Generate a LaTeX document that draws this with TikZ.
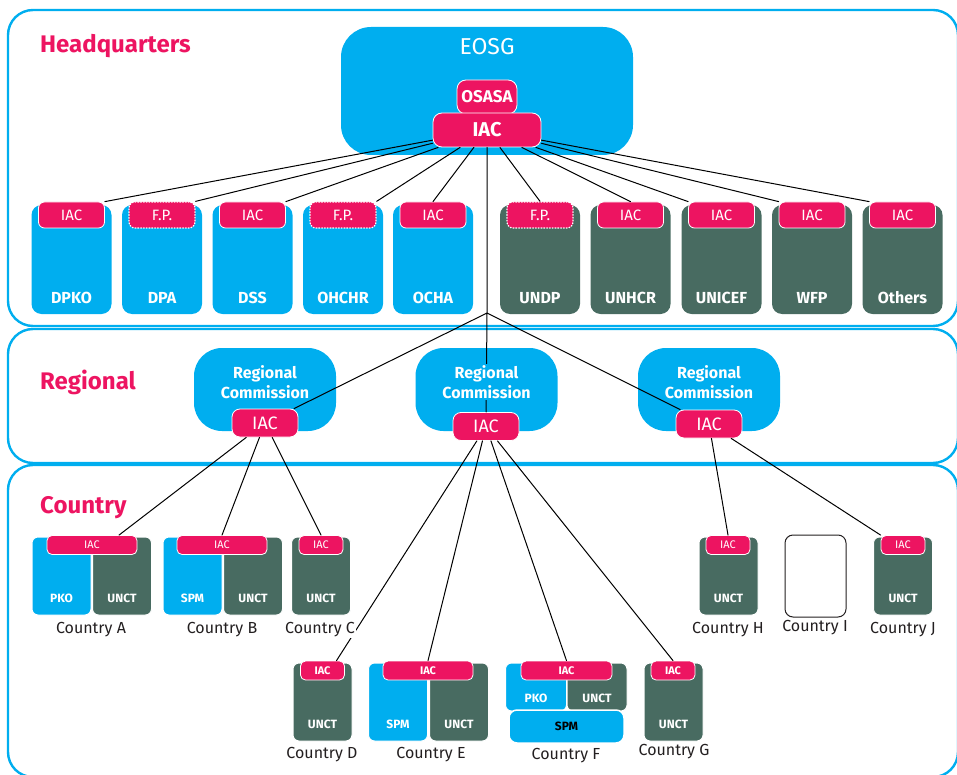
\documentclass[tikz,border=0pt]{standalone}
\usepackage{fontspec}
\setmainfont{Fira Sans}
\definecolor{unblue}{RGB}{0,174,239}
\definecolor{unpink}{RGB}{237,20,97}
\definecolor{ungreen}{RGB}{72,107,97}
\definecolor{ungray}{RGB}{35,31,32}
\begin{document}
\begin{tikzpicture}[x=1pt, y=-1pt, line join=round, line cap=round,
	frame/.style={draw=unblue, line width=2.4pt, rounded corners=25pt},
	title/.style={text=unpink, font=\fontsize{24}{28}\selectfont\bfseries, anchor=base west, inner sep=0pt},
	agency/.style={rounded corners=10pt, minimum width=80pt, minimum height=109pt, inner sep=0pt, text=white, font=\fontsize{16}{18}\selectfont\bfseries, text height=87pt, text depth=0pt},
	tab/.style={fill=unpink, draw=white, line width=0.8pt, rounded corners=6pt, minimum width=66pt, minimum height=26pt, inner sep=0pt, text=white, font=\fontsize{15}{17}\selectfont},
	fptab/.style={tab, dotted, line width=1.3pt},
	region/.style={fill=unblue, rounded corners=28pt, minimum width=142pt, minimum height=83pt},
	rctext/.style={fill=unblue, text=white, align=center, inner sep=1pt, font=\fontsize{16}{20}\selectfont\bfseries},
	rciac/.style={tab, minimum height=28pt, rounded corners=8pt, font=\fontsize{18}{20}\selectfont},
	part/.style={draw=white, line width=1pt, rounded corners=6pt, minimum width=59pt, minimum height=78pt, inner sep=0pt, text=white, font=\fontsize{12}{14}\selectfont\bfseries, text height=53pt, text depth=0pt},
	ctab/.style={tab, minimum width=44pt, minimum height=19pt, rounded corners=5pt, font=\fontsize{11}{13}\selectfont},
	ctabb/.style={ctab, font=\fontsize{11}{13}\selectfont\bfseries},
	cname/.style={fill=white, text=ungray, inner sep=1pt, font=\fontsize{16}{18}\selectfont},
	link/.style={draw=black, line width=1pt}]
	%			\draw[gray,xstep = 50, ystep = 50] (0,0) grid (957,775);
	\useasboundingbox (0,0) rectangle (957,775);
	\draw[frame] (8,10) rectangle (958,326);
	\draw[frame] (8,329) rectangle (958,463);
	\draw[frame] (8,465) rectangle (958,777);
	\node[title] (hq) at (40,53) {Headquarters};
	\node[title] (reg) at (40,389) {Regional};
	\node[title] (cty) at (40,513) {Country};
	
	\node[fill=unblue, rounded corners=30pt, minimum width=292pt, minimum height=128pt] (eosg) at (487,91) {};
	\node[text=white, font=\fontsize{23}{26}\selectfont] (eosg-txt) at (487,46.5) {EOSG};
	\node[tab, minimum width=60pt, minimum height=34pt, rounded corners=9pt, font=\fontsize{17}{19}\selectfont\bfseries] (osasa) at (487,97) {OSASA};
	\node[tab, minimum width=108pt, minimum height=34pt, rounded corners=9pt, font=\fontsize{20}{22}\selectfont\bfseries] (iac) at (487,130) {IAC};
	
	\foreach \n/\x/\c in {DPKO/71.5/unblue, DPA/162/unblue, DSS/252.5/unblue, OHCHR/343/unblue, OCHA/433/unblue, UNDP/540/ungreen, UNHCR/630.5/ungreen, UNICEF/721.5/ungreen, WFP/812/ungreen, Others/902.5/ungreen}
	\node[agency, fill=\c] (box-\n) at (\x,259.5) {\n};
	\foreach \n/\x in {DPKO/71.5, DSS/252.5, OCHA/433, UNHCR/630.5, UNICEF/721.5, WFP/812, Others/902.5}
	\node[tab] (tab-\n) at (\x,215) {IAC};
	\foreach \n/\x in {DPA/162, OHCHR/343, UNDP/540}
	\node[fptab] (tab-\n) at (\x,215) {F.P.};
	
	\node[region] (rcA) at (265,389.5) {};
	\node[region] (rcB) at (486.5,389.5) {};
	\node[region] (rcC) at (709,389.5) {};
	\node[rciac] (rcA-iac) at (265,423) {IAC};
	\node[rciac] (rcB-iac) at (486,426.5) {IAC};
	\node[rciac] (rcC-iac) at (709,424) {IAC};
	
	\node[part, fill=unblue] (pkoA) at (61.5,576) {PKO};
	\node[part, fill=ungreen] (unctA) at (122,576) {UNCT};
	\node[ctab, minimum width=90pt] (iacA) at (92,545) {IAC};
	\node[part, fill=unblue] (spmB) at (192.5,576) {SPM};
	\node[part, fill=ungreen] (unctB) at (253,576) {UNCT};
	\node[ctab, minimum width=90pt] (iacB) at (222,545) {IAC};
	\node[part, fill=ungreen] (unctC) at (321,576) {UNCT};
	\node[ctab] (iacC) at (321,545) {IAC};
	\node[part, fill=ungreen] (unctH) at (728.5,576) {UNCT};
	\node[ctab] (iacH) at (728,545) {IAC};
	\node[draw=ungray, fill=white, line width=1pt, rounded corners=8pt, minimum width=61pt, minimum height=82pt] (boxI) at (815.5,576) {};
	\node[part, fill=ungreen] (unctJ) at (903,576) {UNCT};
	\node[ctab] (iacJ) at (903,545) {IAC};
	
	\node[part, fill=ungreen] (unctD) at (322.5,702) {UNCT};
	\node[ctabb] (iacD) at (322.5,670.5) {IAC};
	\node[part, fill=unblue] (spmE) at (398,702) {SPM};
	\node[part, fill=ungreen] (unctE) at (459,702) {UNCT};
	\node[ctabb, minimum width=90pt] (iacE) at (428,670.5) {IAC};
	\node[part, fill=unblue, minimum width=61pt, minimum height=48pt, text height=31pt] (pkoF) at (536,687) {PKO};
	\node[part, fill=ungreen, minimum width=60pt, minimum height=48pt, text height=31pt] (unctF) at (597,687) {UNCT};
	\node[part, fill=unblue, line width=1.5pt, minimum width=115pt, minimum height=33pt, rounded corners=8pt, text=black, text height=, text depth=] (spmF) at (566.5,726.5) {SPM};
	\node[ctabb, minimum width=91pt] (iacF) at (566.5,670.5) {IAC};
	\node[part, fill=ungreen] (unctG) at (673.5,702) {UNCT};
	\node[ctabb] (iacG) at (673,670.5) {IAC};
	
	\foreach \n/\a in {DPKO/north east, DPA/north east, DSS/north east, OHCHR/north east, OCHA/north, UNDP/north, UNHCR/north, UNICEF/north west, WFP/north west, Others/north west}
	\draw[link] (iac) -- (tab-\n.\a);
	\coordinate (hub) at (487,313);
	\draw[link] (iac) -- (hub)
	(hub) -- (rcA-iac)
	(hub) -- (rcB-iac)
	(hub) -- (rcC-iac)
	;
	\draw[link] (rcA-iac) -- ([xshift=27pt]iacA.north)
	(rcA-iac) -- (iacB.north)
	(rcA-iac) -- (iacC.north)
	(rcB-iac) -- ([xshift=14pt]iacD.north)
	(rcB-iac) -- (iacE.north)
	(rcB-iac) -- (iacF.north)
	(rcB-iac) -- (iacG.north)
	(rcC-iac) -- (iacH.north)
	(rcC-iac) -- (iacJ.north west)
	;
	
	\node[rctext] (rcA-txt) at (265,382) {Regional\\Commission};
	\node[rctext] (rcB-txt) at (486.5,382) {Regional\\Commission};
	\node[rctext] (rcC-txt) at (709,382) {Regional\\Commission};
	\node[cname] (nameA) at (91,630) {Country A};
	\node[cname] (nameB) at (222,630) {Country B};
	\node[cname] (nameC) at (320,630) {Country C};
	\node[cname] (nameH) at (728,630) {Country H};
	\node[cname] (nameI) at (815,628) {Country I};
	\node[cname] (nameJ) at (903,630) {Country J};
	\node[cname] (nameD) at (322,755) {Country D};
	\node[cname] (nameE) at (431,755) {Country E};
	\node[cname] (nameF) at (566,756) {Country F};
	\node[cname] (nameG) at (674,752) {Country G};
\end{tikzpicture}
\end{document}
